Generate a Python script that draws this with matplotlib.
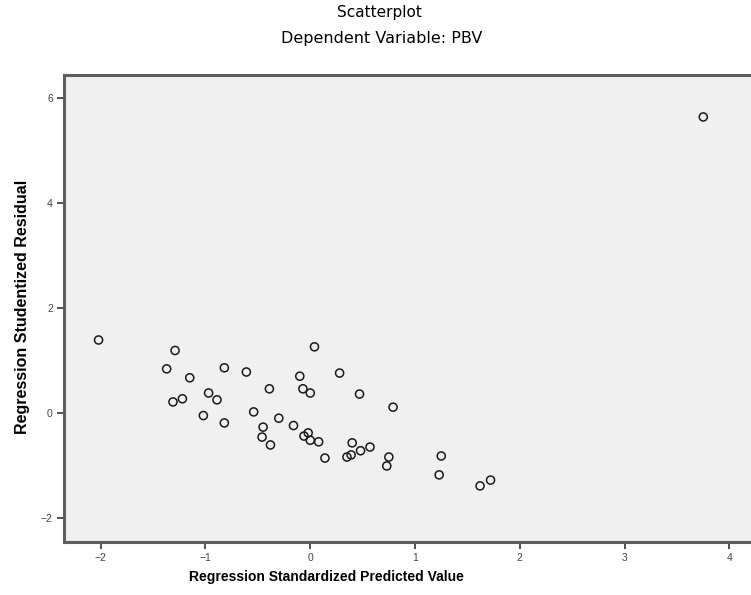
import matplotlib

matplotlib.use("Agg")

import matplotlib.pyplot as plt

# standardized predicted value vs studentized residual
pred = [
    -2.02, -1.29, -1.37, -1.15, -0.82, -0.61, -0.97, -0.89, -1.22, -1.31,
    -1.02, -0.82, -0.54, -0.39, -0.45, -0.46, -0.38, -0.30, -0.16, -0.10,
    -0.07, 0.00, 0.04, -0.06, -0.02, 0.00, 0.08, 0.14, 0.28, 0.47,
    0.40, 0.35, 0.39, 0.48, 0.57, 0.79, 0.75, 0.73, 1.25, 1.23,
    1.62, 1.72, 3.75,
]
resid = [
    1.39, 1.19, 0.84, 0.67, 0.86, 0.78, 0.38, 0.25, 0.27, 0.21,
    -0.05, -0.19, 0.02, 0.46, -0.27, -0.46, -0.61, -0.10, -0.24, 0.70,
    0.46, 0.38, 1.26, -0.44, -0.38, -0.52, -0.55, -0.86, 0.76, 0.36,
    -0.57, -0.84, -0.80, -0.72, -0.65, 0.11, -0.84, -1.01, -0.82, -1.18,
    -1.39, -1.28, 5.64,
]
x_ticks = [-2, -1, 0, 1, 2, 3, 4]
y_ticks = [-2, 0, 2, 4, 6]

plt.rcParams["font.family"] = ["Liberation Sans", "DejaVu Sans"]

fig = plt.figure(figsize=(7.51, 5.95), dpi=100)
ax = fig.add_axes([0.0852, 0.089, 0.928, 0.785])
ax.set_facecolor("#f0f0f0")

ax.scatter(pred, resid, s=34, facecolors="none", edgecolors="#1a1a1a", linewidths=1.1)

ax.set_xlim(-2.35, 4.3)
ax.set_ylim(-2.46, 6.44)
ax.set_xticks(x_ticks)
ax.set_yticks(y_ticks)
ax.tick_params(axis="both", direction="out", length=5, width=1.2, color="#333333",
               labelsize=7.5, labelcolor="#444444", pad=3)

for side in ["left", "bottom", "top", "right"]:
    ax.spines[side].set_color("#5e5e5e")
    ax.spines[side].set_linewidth(2.2)

ax.set_xlabel("Regression Standardized Predicted Value", fontsize=10, fontweight="bold", va="center")
ax.xaxis.set_label_coords(0.377, -0.075)
ax.set_ylabel("Regression Studentized Residual", fontsize=11.5, fontweight="bold", va="center")
ax.yaxis.set_label_coords(-0.060, 0.503)

fig.text(0.505, 0.979, "Scatterplot", ha="center", va="center",
         fontsize=11, family="DejaVu Sans")
fig.text(0.508, 0.935, "Dependent Variable: PBV", ha="center", va="center",
         fontsize=11.5, family="DejaVu Sans")

fig.savefig("out.png", dpi=100, facecolor="white")
plt.close(fig)
